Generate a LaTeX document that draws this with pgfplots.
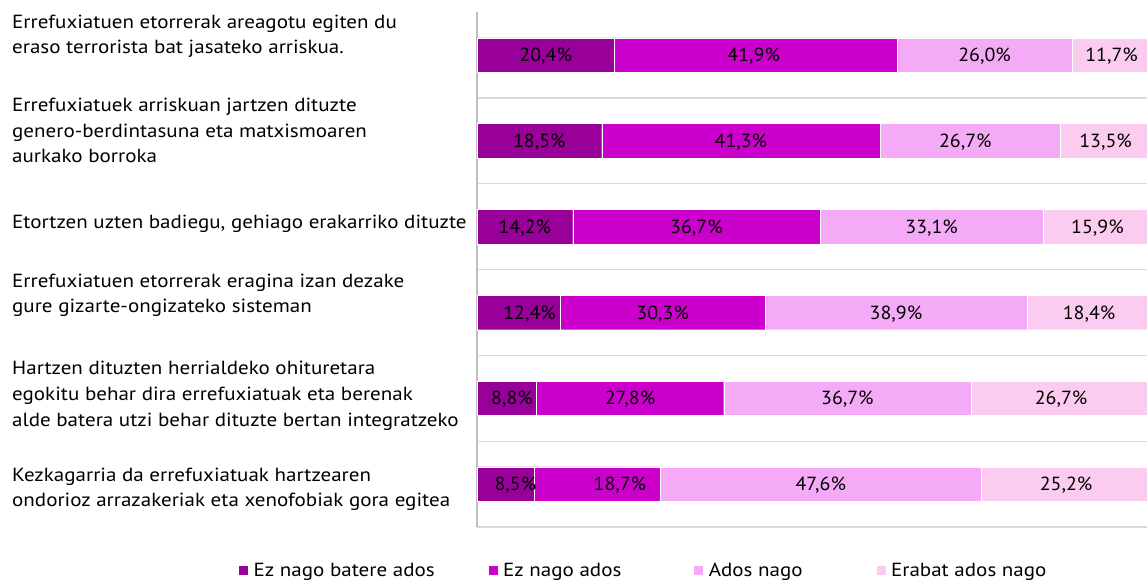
\documentclass[border=0pt]{standalone}
\usepackage{pgfplots}
\pgfplotsset{compat=1.18}
\usepackage{pgfplotstable}
\usepackage{fontspec}
\setmainfont{PT Sans}[FakeStretch=1.107]
\newfontfamily\valfam{PT Sans}[FakeStretch=1.05]
\definecolor{c1}{RGB}{153,0,153}
\definecolor{c2}{RGB}{204,0,204}
\definecolor{c3}{RGB}{245,170,247}
\definecolor{c4}{RGB}{251,204,240}
\definecolor{gridc}{RGB}{217,217,217}
\definecolor{axc}{RGB}{191,191,191}
\newcommand{\lf}{\fontsize{19}{23}\selectfont}
\newcommand{\vf}{\valfam\fontsize{19}{23}\selectfont}

\pgfplotstableread{
row a b c d
0 20.4 41.9 26.0 11.7
1 18.5 41.3 26.7 13.5
2 14.2 36.7 33.1 15.9
3 12.4 30.3 38.9 18.4
4 8.8 27.8 36.7 26.7
5 8.5 18.7 47.6 25.2
}\data

\pgfplotstableread{
x row lab
10.2 0 20,4
41.05 0 41,9
75.3 0 26,0
94.15 0 11,7
9.25 1 18,5
39.15 1 41,3
72.45 1 26,7
93.25 1 13,5
7.1 2 14,2
32.55 2 36,7
67.45 2 33,1
92.05 2 15,9
7.8 3 12,4
27.55 3 30,3
62.15 3 38,9
90.8 3 18,4
5.2 4 8,8
22.7 4 27,8
54.95 4 36,7
86.65 4 26,7
5.7 5 8,5
21.2 5 18,7
51.0 5 47,6
87.4 5 25,2
}\labels

\begin{document}
\begin{tikzpicture}
\useasboundingbox (0,0) rectangle (1147pt,581pt);
\begin{axis}[
  at={(477pt,54pt)}, anchor=south west,
  width=670pt, height=514.85pt, scale only axis,
  xbar stacked, bar width=34.5pt,
  xmin=0, xmax=99.4,
  ymin=-0.5, ymax=5.5, y dir=reverse,
  axis y line*=left, axis x line=none,
  y axis line style={draw=axc, line width=1.5pt},
  xtick=\empty,
  ytick={0,...,5}, yticklabels={},
  minor ytick={0.5,1.5,2.5,3.5,4.5,5.5},
  yminorgrids=true,
  minor grid style={draw=gridc, line width=1.3pt},
  major tick length=0pt, minor tick length=0pt,
  legend columns=4,
  legend image code/.code={\fill[#1] (0pt,-5pt) rectangle (10pt,5pt);},
  legend style={at={(axis description cs:-0.3567,-0.0846)}, anchor=west,
    draw=none, fill=none, inner sep=0pt,
    nodes={inner sep=0pt, font=\lf},
    /tikz/every odd column/.style={column sep=5pt},
    /tikz/column 2/.style={column sep=53pt},
    /tikz/column 4/.style={column sep=72pt},
    /tikz/column 6/.style={column sep=73pt}},
]
\addplot[fill=c1, draw=white, line width=0.4pt] table[x=a, y=row]{\data};
\addlegendentry{Ez nago batere ados}
\addplot[fill=c2, draw=white, line width=0.4pt] table[x=b, y=row]{\data};
\addlegendentry{Ez nago ados}
\addplot[fill=c3, draw=white, line width=0.4pt] table[x=c, y=row]{\data};
\addlegendentry{Ados nago}
\addplot[fill=c4, draw=white, line width=0.4pt] table[x=d, y=row]{\data};
\addlegendentry{Erabat ados nago}
\end{axis}
\begin{axis}[
  at={(477pt,54pt)}, anchor=south west,
  width=670pt, height=514.85pt, scale only axis,
  xmin=0, xmax=99.4,
  ymin=-0.5, ymax=5.5, y dir=reverse,
  hide axis, clip=false,
]
\addplot[only marks, mark=none, point meta=explicit symbolic,
  nodes near coords={\pgfplotspointmeta\%},
  every node near coord/.append style={anchor=base, yshift=-6.7pt, inner sep=0pt, font=\vf, text=black}]
  table[x=x, y=row, meta=lab]{\labels};
\end{axis}
\lf
\node[anchor=base west, inner sep=0pt] at (12pt,552.7pt) {Errefuxiatuen etorrerak areagotu egiten du};
\node[anchor=base west, inner sep=0pt] at (12pt,527pt) {eraso terrorista bat jasateko arriskua.};
\node[anchor=base west, inner sep=0pt] at (12pt,469pt) {Errefuxiatuek arriskuan jartzen dituzte};
\node[anchor=base west, inner sep=0pt] at (12pt,443.3pt) {genero-berdintasuna eta matxismoaren};
\node[anchor=base west, inner sep=0pt] at (12pt,418pt) {aurkako borroka};
\node[anchor=base west, inner sep=0pt] at (12pt,352pt) {Etortzen uzten badiegu, gehiago erakarriko dituzte};
\node[anchor=base west, inner sep=0pt] at (12pt,293.5pt) {Errefuxiatuen etorrerak eragina izan dezake};
\node[anchor=base west, inner sep=0pt] at (12pt,268.3pt) {gure gizarte-ongizateko sisteman};
\node[anchor=base west, inner sep=0pt] at (12pt,206pt) {Hartzen dituzten herrialdeko ohituretara};
\node[anchor=base west, inner sep=0pt] at (12pt,180.3pt) {egokitu behar dira errefuxiatuak eta berenak};
\node[anchor=base west, inner sep=0pt] at (12pt,154.3pt) {alde batera utzi behar dituzte bertan integratzeko};
\node[anchor=base west, inner sep=0pt] at (12pt,99.3pt) {Kezkagarria da errefuxiatuak hartzearen};
\node[anchor=base west, inner sep=0pt] at (12pt,74.3pt) {ondorioz arrazakeriak eta xenofobiak gora egitea};
\end{tikzpicture}
\end{document}
